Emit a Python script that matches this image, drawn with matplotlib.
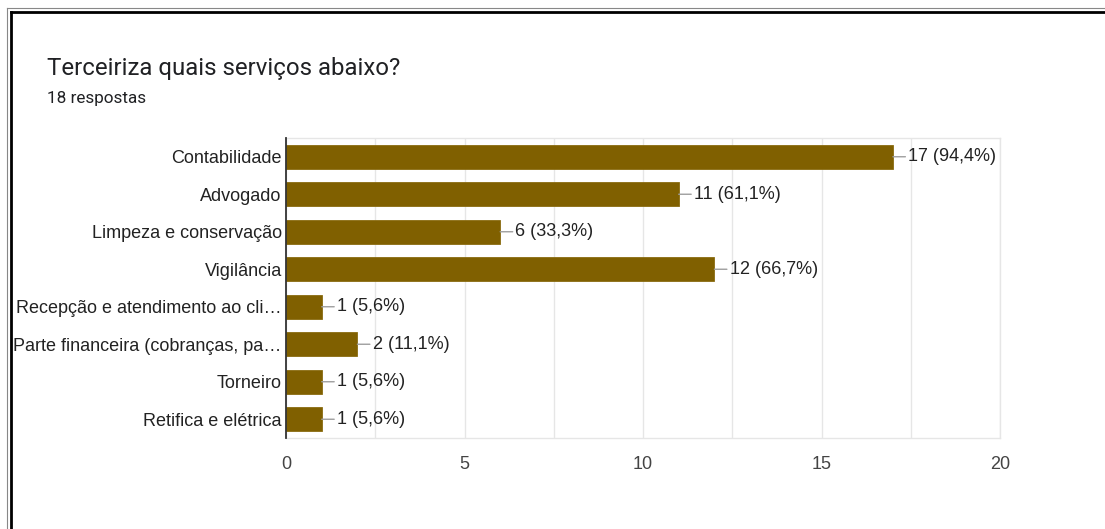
import matplotlib
matplotlib.use("Agg")
import matplotlib.pyplot as plt
from matplotlib.lines import Line2D

plt.rcParams['font.family'] = ['Liberation Sans', 'DejaVu Sans']

categories = ["Contabilidade", "Advogado", "Limpeza e conservação", "Vigilância",
              "Recepção e atendimento ao cli…", "Parte financeira (cobranças, pa…",
              "Torneiro", "Retifica e elétrica"]
counts = [17, 11, 6, 12, 1, 2, 1, 1]
percent_labels = ["94,4%", "61,1%", "33,3%", "66,7%", "5,6%", "11,1%", "5,6%", "5,6%"]
x_ticks = [0, 5, 10, 15, 20]
title = "Terceiriza quais serviços abaixo?"
subtitle = "18 respostas"

W, H = 1105, 529
fig = plt.figure(figsize=(W / 100, H / 100), dpi=100)
fig.patch.set_facecolor('white')

ax = fig.add_axes([286 / W, 1 - 438 / H, (1000 - 286) / W, (438 - 138) / H])
ypos = list(range(len(categories)))
ax.barh(ypos, counts, height=0.63, color='#806000', edgecolor='#8a6c10', linewidth=0.6, zorder=3)
ax.set_ylim(len(categories) - 0.5, -0.5)
ax.set_xlim(0, 20)
ax.set_yticks(ypos)
ax.set_yticklabels(categories, fontsize=13, color='#222222')
ax.set_xticks(x_ticks)
ax.set_xticklabels([str(t) for t in x_ticks], fontsize=13, color='#444444')
ax.set_xticks([2.5, 7.5, 12.5, 17.5], minor=True)
ax.tick_params(axis='y', length=0, pad=3)
ax.tick_params(axis='x', length=0, pad=13)
ax.tick_params(axis='x', which='minor', length=0)
ax.grid(axis='x', which='both', color='#e6e6e6', linewidth=1, zorder=0)
for s in ['top', 'right', 'bottom']:
    ax.spines[s].set_color('#e6e6e6')
    ax.spines[s].set_linewidth(1)
ax.spines['left'].set_color('#333333')
ax.spines['left'].set_linewidth(1.3)
ax.spines['left'].set_zorder(4)

for i, (c, p) in enumerate(zip(counts, percent_labels)):
    ax.annotate(f"{c} ({p})", xy=(c, i), xytext=(11, 0), textcoords='offset points',
                ha='left', va='center', fontsize=13, color='#222222',
                arrowprops=dict(arrowstyle='-', color='#9e9e9e', lw=1, shrinkA=0, shrinkB=0))

fig.text(47 / W, 1 - 68 / H, title, fontsize=17.3, color='#202124', ha='left', va='center',
         family=['Roboto', 'DejaVu Sans'])
fig.text(47 / W, 1 - 98 / H, subtitle, fontsize=12.3, color='#202124', ha='left', va='center',
         family=['Roboto', 'DejaVu Sans'])

# screenshot frame (top and left edges)
fig.add_artist(Line2D([7 / W, 1], [1 - 8 / H, 1 - 8 / H], transform=fig.transFigure, color='#888888', lw=0.8))
fig.add_artist(Line2D([11 / W, 1], [1 - 12 / H, 1 - 12 / H], transform=fig.transFigure, color='black', lw=2))
fig.add_artist(Line2D([7 / W, 7 / W], [0, 1 - 8 / H], transform=fig.transFigure, color='#888888', lw=0.8))
fig.add_artist(Line2D([11 / W, 11 / W], [0, 1 - 12 / H], transform=fig.transFigure, color='black', lw=2))

fig.savefig("out.png", dpi=100)
